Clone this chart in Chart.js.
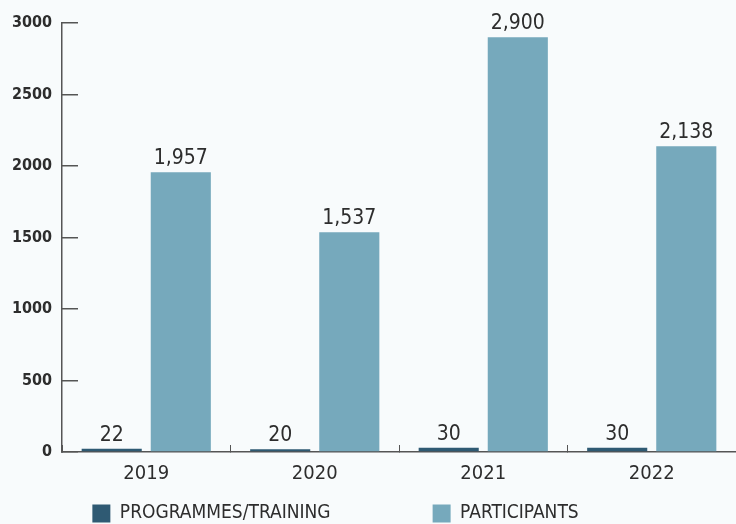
<!DOCTYPE html>
<html>
<head>
<meta charset="utf-8">
<script src="https://cdn.jsdelivr.net/npm/chart.js@4.4.1/dist/chart.umd.min.js"></script>
<style>
  html, body { margin: 0; padding: 0; background: #f8fbfc; }
  #wrap { width: 736px; height: 524px; }
</style>
</head>
<body>
<div id="wrap"><canvas id="myChart"></canvas></div>
<script>
const years = ['2019', '2020', '2021', '2022'];
const programmes = [22, 20, 30, 30];
const participants = [1957, 1537, 2900, 2138];
const yTicks = [0, 500, 1000, 1500, 2000, 2500, 3000];

const fontName = '"DejaVu Sans Condensed", "DejaVu Sans", sans-serif';
const textColor = '#2d2d2d';

// value labels above each bar
const valueLabels = {
    id: 'valueLabels',
    afterDatasetsDraw(chart) {
        const ctx = chart.ctx;
        ctx.save();
        ctx.font = '21px ' + fontName;
        ctx.fillStyle = textColor;
        ctx.textAlign = 'center';
        ctx.textBaseline = 'bottom';
        chart.data.datasets.forEach((ds, i) => {
            chart.getDatasetMeta(i).data.forEach((bar, j) => {
                ctx.fillText(ds.data[j].toLocaleString('en-US'), bar.x, bar.y - 3);
            });
        });
        ctx.restore();
    }
};

const data = {
    labels: years,
    datasets: [{
        label: 'PROGRAMMES/TRAINING',
        backgroundColor: '#2f5a73',
        data: programmes,
    }, {
        label: 'PARTICIPANTS',
        backgroundColor: '#76a9bc',
        data: participants,
    }]
};

const config = {
    type: 'bar',
    data: data,
    plugins: [valueLabels],
    options: {
        responsive: true,
        maintainAspectRatio: false,
        animation: false,
        categoryPercentage: 0.82,
        barPercentage: 0.87,
        layout: {
            padding: { top: 23, right: 0, left: 12, bottom: -9 }
        },
        plugins: {
            tooltip: { enabled: false },
            legend: {
                position: 'bottom',
                labels: {
                    boxWidth: 18,
                    boxHeight: 18,
                    padding: 8,
                    color: textColor,
                    font: { family: fontName, size: 19 },
                    generateLabels: (chart) => {
                        const items = Chart.defaults.plugins.legend.labels.generateLabels(chart);
                        // wider gap between entries, block sits a little left of centre
                        items[0].text = items[0].text + '\u2003'.repeat(5) + '\u2002';
                        items[1].text = items[1].text + '\u2003'.repeat(4) + '\u2002';
                        return items;
                    }
                }
            }
        },
        scales: {
            x: {
                afterFit: (scale) => { scale.height = 44; },
                grid: {
                    drawOnChartArea: false,
                    tickLength: -7,
                    color: '#555',
                    lineWidth: 1
                },
                border: { color: '#555', width: 1.5 },
                ticks: {
                    color: textColor,
                    padding: 17,
                    font: { family: fontName, size: 20 }
                }
            },
            y: {
                min: 0,
                max: 3000,
                afterBuildTicks: (scale) => {
                    scale.ticks = yTicks.map(v => ({ value: v }));
                },
                afterFit: (scale) => {
                    scale.width = 50;
                    scale.paddingTop = 0;
                    scale.paddingBottom = 0;
                },
                grid: {
                    drawOnChartArea: false,
                    tickLength: -16,
                    color: '#555',
                    lineWidth: 1.5
                },
                border: { color: '#555', width: 1.5 },
                ticks: {
                    color: textColor,
                    padding: 26,
                    callback: (v) => String(v),
                    font: { family: fontName, size: 16, weight: 'bold' }
                }
            }
        }
    }
};

const myChart = new Chart(
    document.getElementById('myChart'),
    config
);
</script>
</body>
</html>
